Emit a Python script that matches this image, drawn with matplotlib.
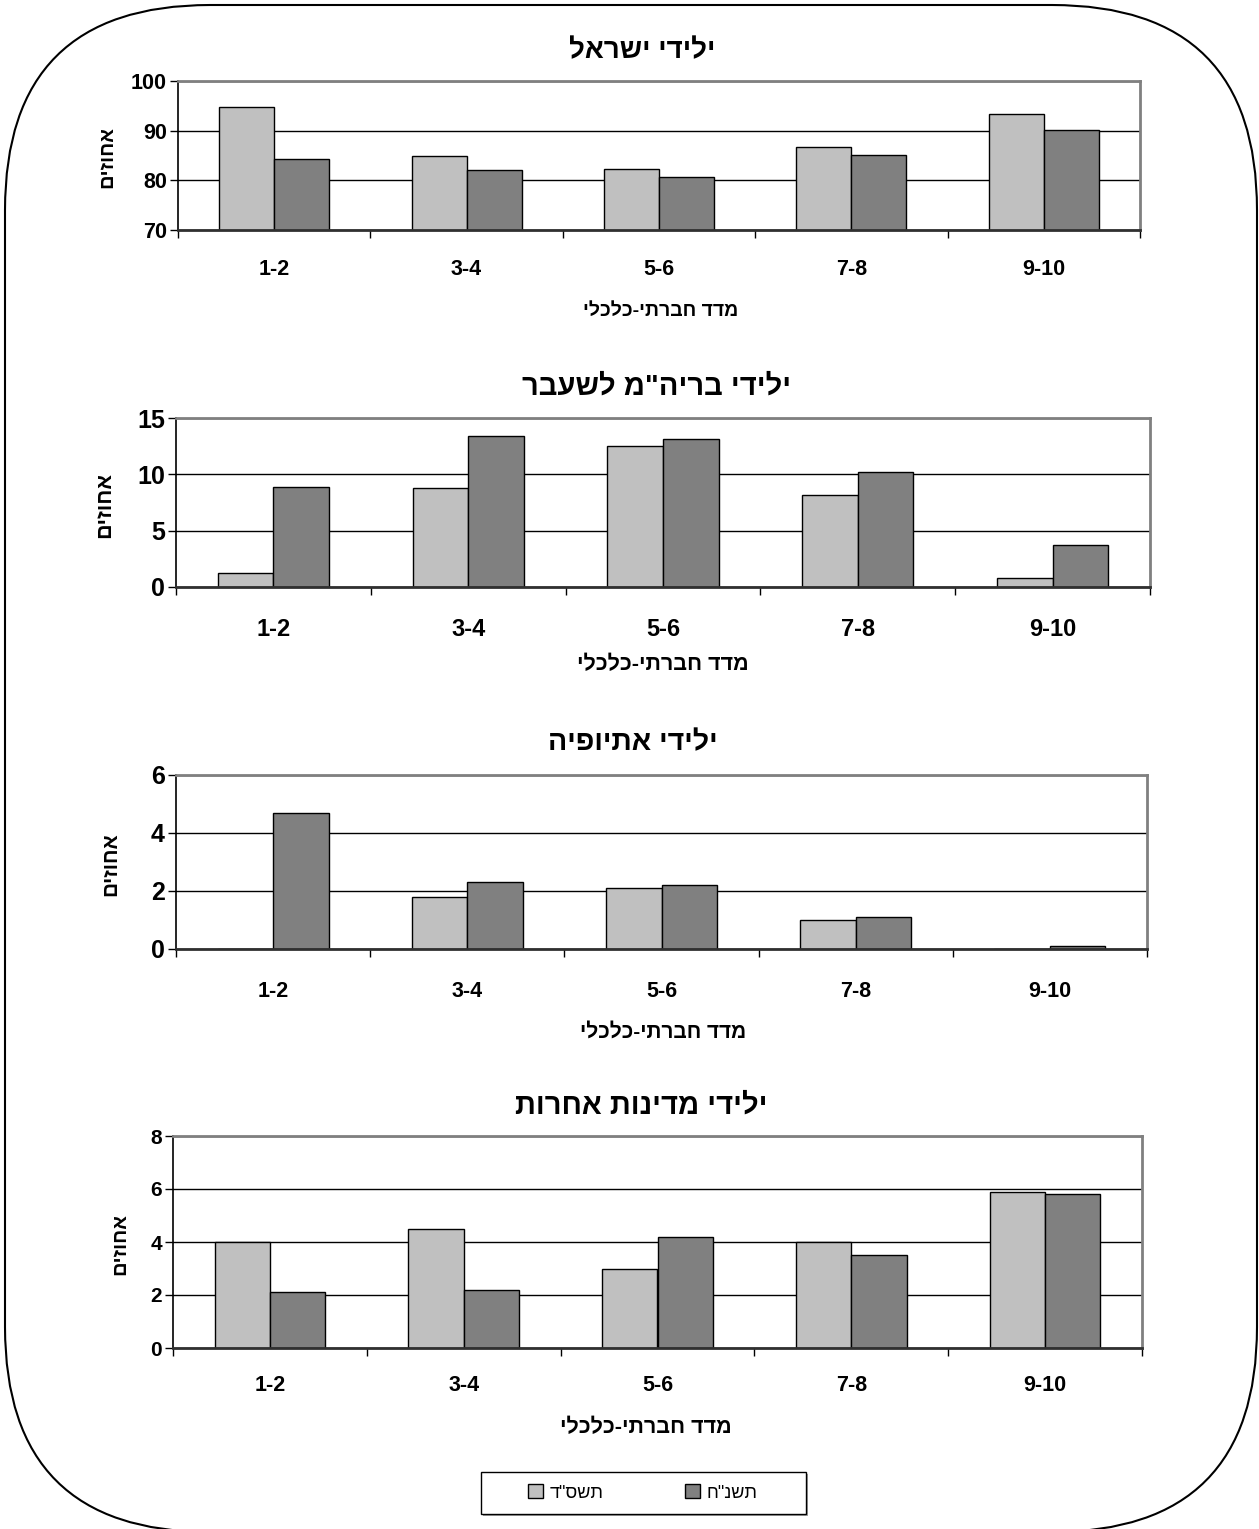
import matplotlib
matplotlib.use('Agg')
import matplotlib.pyplot as plt
import numpy as np
from matplotlib.patches import FancyBboxPatch, Rectangle
from matplotlib.transforms import IdentityTransform

plt.rcParams['font.family'] = ['Liberation Sans', 'DejaVu Sans']

# data
categories = ['1-2', '3-4', '5-6', '7-8', '9-10']
series_names = ['תשס"ד', 'תשנ"ח']

israel_64 = [94.7, 84.9, 82.3, 86.7, 93.3]
israel_58 = [84.2, 82.1, 80.6, 85.2, 90.2]
fsu_64 = [1.2, 8.8, 12.5, 8.2, 0.8]
fsu_58 = [8.9, 13.4, 13.1, 10.2, 3.7]
ethiopia_64 = [0, 1.8, 2.1, 1.0, 0]
ethiopia_58 = [4.7, 2.3, 2.2, 1.1, 0.1]
other_64 = [4.0, 4.5, 3.0, 4.0, 5.9]
other_58 = [2.1, 2.2, 4.2, 3.5, 5.8]

titles = ['ילידי ישראל', 'ילידי בריה"מ לשעבר', 'ילידי אתיופיה', 'ילידי מדינות אחרות']
y_ranges = [(70, 100, 10), (0, 15, 5), (0, 6, 2), (0, 8, 2)]
x_title = 'מדד חברתי-כלכלי'
y_title = 'אחוזים'

W, H = 1259, 1529


def rtl(s):
    """matplotlib has no bidi, so hand it the visual order"""
    return s[::-1]


def fx(px):
    return px / W


def fy(py):
    return 1 - py / H


fig = plt.figure(figsize=(W / 100, H / 100), dpi=100)

# axes boxes in pixels: left, top, right, bottom
boxes = [(178, 81, 1140, 230), (176, 418, 1150, 587),
         (176, 775, 1147, 949), (173, 1136, 1142, 1348)]
title_xy = [(642, 51), (657, 387), (633, 743), (641, 1106)]
xlab_xy = [(661, 311), (663, 665), (663, 1032), (646, 1428)]
ylab_x = [107, 105, 111, 120]
tick_y = [267, 627, 989, 1383]
title_fs = [20, 21, 20.5, 21]
ytick_fs = [15.5, 18, 18, 15]
xtick_fs = [15.5, 17, 15.5, 15.5]
xlab_fs = [14, 15.5, 15, 15.5]
ylab_fs = [14.5, 15.5, 15, 14.5]

data = [(israel_64, israel_58), (fsu_64, fsu_58),
        (ethiopia_64, ethiopia_58), (other_64, other_58)]

x = np.arange(len(categories))
w = 1 / 3.5
handles = None

for i, (a, b) in enumerate(data):
    l, t, r, btm = boxes[i]
    ax = fig.add_axes([fx(l), fy(btm), fx(r - l), (btm - t) / H])
    b1 = ax.bar(x - w / 2, a, w, color='#C0C0C0', edgecolor='black', linewidth=1)
    b2 = ax.bar(x + w / 2, b, w, color='#808080', edgecolor='black', linewidth=1)
    if handles is None:
        handles = [b1, b2]
    lo, hi, step = y_ranges[i]
    ax.set_ylim(lo, hi)
    ax.set_xlim(-0.5, len(categories) - 0.5)
    ax.set_yticks(np.arange(lo, hi + step / 2, step))
    ax.yaxis.grid(True, color='black', linewidth=1)
    ax.set_axisbelow(True)

    ax.set_xticks(np.arange(-0.5, len(categories), 1))
    ax.set_xticks(x, minor=True)
    ax.set_xticklabels(categories, minor=True)
    ax.tick_params(axis='x', which='major', direction='out', length=6,
                   width=1, labelbottom=False)
    pad = (tick_y[i] - btm) / 1.389 - xtick_fs[i] * 0.36
    ax.tick_params(axis='x', which='minor', length=0, pad=pad,
                   labelsize=xtick_fs[i])
    ax.tick_params(axis='y', direction='out', length=6, width=1,
                   labelsize=ytick_fs[i], pad=2)
    for lab in ax.get_xticklabels(minor=True) + ax.get_yticklabels():
        lab.set_fontweight('bold')

    ax.spines['top'].set_color('#808080')
    ax.spines['right'].set_color('#808080')
    ax.spines['top'].set_linewidth(2)
    ax.spines['right'].set_linewidth(2)
    ax.spines['left'].set_linewidth(1.2)
    ax.spines['bottom'].set_color('#303030')
    ax.spines['bottom'].set_linewidth(2)

    fig.text(fx(title_xy[i][0]), fy(title_xy[i][1]), rtl(titles[i]),
             ha='center', va='center', fontsize=title_fs[i], fontweight='bold')
    fig.text(fx(xlab_xy[i][0]), fy(xlab_xy[i][1]), rtl(x_title),
             ha='center', va='center', fontsize=xlab_fs[i], fontweight='bold')
    fig.text(fx(ylab_x[i]), fy((t + btm) / 2 + 2), rtl(y_title),
             ha='center', va='center', rotation=90, fontsize=ylab_fs[i],
             fontweight='bold')

# legend box with a faint shadow, as in the original
fig.add_artist(Rectangle((483, H - 1516), 325, 42, transform=IdentityTransform(),
                         facecolor='#A0A0A0', edgecolor='none'))
fig.add_artist(Rectangle((481, H - 1514), 325, 42, transform=IdentityTransform(),
                         facecolor='white', edgecolor='black', linewidth=1))
leg = fig.legend(handles, [rtl(s) for s in series_names], ncol=2,
                 loc='center', bbox_to_anchor=(fx(643), fy(1493)),
                 frameon=False, fontsize=13,
                 handlelength=0.8, handleheight=0.8, handletextpad=0.4,
                 columnspacing=4.5)

# rounded frame around the whole thing
frame = FancyBboxPatch((5, H - 1532), 1252, 1527,
                       boxstyle='round,pad=0,rounding_size=205',
                       transform=IdentityTransform(), fill=False,
                       edgecolor='black', linewidth=1.5)
fig.add_artist(frame)

fig.savefig('out.png', dpi=100)
